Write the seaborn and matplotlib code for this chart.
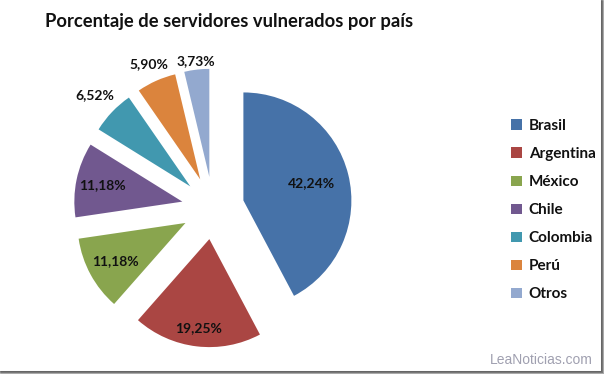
import matplotlib
matplotlib.use("Agg")
import matplotlib.pyplot as plt
import seaborn as sns
import numpy as np
from matplotlib.patches import Rectangle
from matplotlib.lines import Line2D

sns.set_theme(style="white")
plt.rcParams['font.family'] = ['Lato', 'DejaVu Sans']

paises = ["Brasil", "Argentina", "México", "Chile", "Colombia", "Perú", "Otros"]
porcentajes = [42.24, 19.25, 11.18, 11.18, 6.52, 5.90, 3.73]
colores = ["#4672A8", "#AA4643", "#89A54E", "#71588F", "#4198AF", "#DB843D", "#93A9CF"]
titulo = "Porcentaje de servidores vulnerados por país"
marca = "LeaNoticias.com"

W, H = 604, 374
fig = plt.figure(figsize=(W / 100, H / 100), dpi=100)
ax = fig.add_axes([0, 0, 1, 1])

scale = 108.0  # px per data unit
cx, cy = 213.0, 208.0
explode = [0.29] * len(porcentajes)
wedges, _ = ax.pie(porcentajes, colors=colores, startangle=90, counterclock=False,
                   explode=explode, radius=1.0, wedgeprops=dict(linewidth=0))
ax.set_aspect('auto')
ax.set_xlim(-cx / scale, (W - cx) / scale)
ax.set_ylim(-(H - cy) / scale, cy / scale)
ax.axis('off')

# label radial distance (fraction of radius) per slice
label_dist = [0.65, 0.83, 0.74, 0.76, 1.22, 1.17, 1.08]
for w, p, d in zip(wedges, porcentajes, label_dist):
    mid = np.deg2rad((w.theta1 + w.theta2) / 2)
    x = w.center[0] + d * w.r * np.cos(mid)
    y = w.center[1] + d * w.r * np.sin(mid)
    ax.text(x, y, f"{p:.2f}%".replace(".", ","), ha="center", va="center",
            fontsize=10, fontweight="bold", color="#111111")

fig.text(229 / W, 1 - 21 / H, titulo, ha="center", va="center",
         fontsize=13.2, fontweight="bold", color="#111111")

handles = [Rectangle((0, 0), 1, 1, facecolor=c, edgecolor="none") for c in colores]
leg = fig.legend(handles, paises, loc="upper left", bbox_to_anchor=(505 / W, 1 - 113 / H),
                 frameon=False, handlelength=0.7, handleheight=0.7, handletextpad=0.45,
                 labelspacing=0.92, prop=dict(weight="bold", size=11), borderaxespad=0)
for t in leg.get_texts():
    t.set_color("#111111")

fig.text(593 / W, 1 - 360 / H, marca, ha="right", va="center", fontsize=10,
         color="#a0a0b0", family=["Liberation Sans", "DejaVu Sans"])

# frame shadow on right and bottom
for i, c in enumerate(["#666666", "#777777", "#aaaaaa", "#d0d0d0"]):
    fig.add_artist(Line2D([(600.5 + i) / W] * 2, [0, 1], color=c, lw=0.75,
                          transform=fig.transFigure))
    fig.add_artist(Line2D([0, 1], [1 - (370.5 + i) / H] * 2, color=c, lw=0.75,
                          transform=fig.transFigure))

fig.savefig("out.png", dpi=100)
